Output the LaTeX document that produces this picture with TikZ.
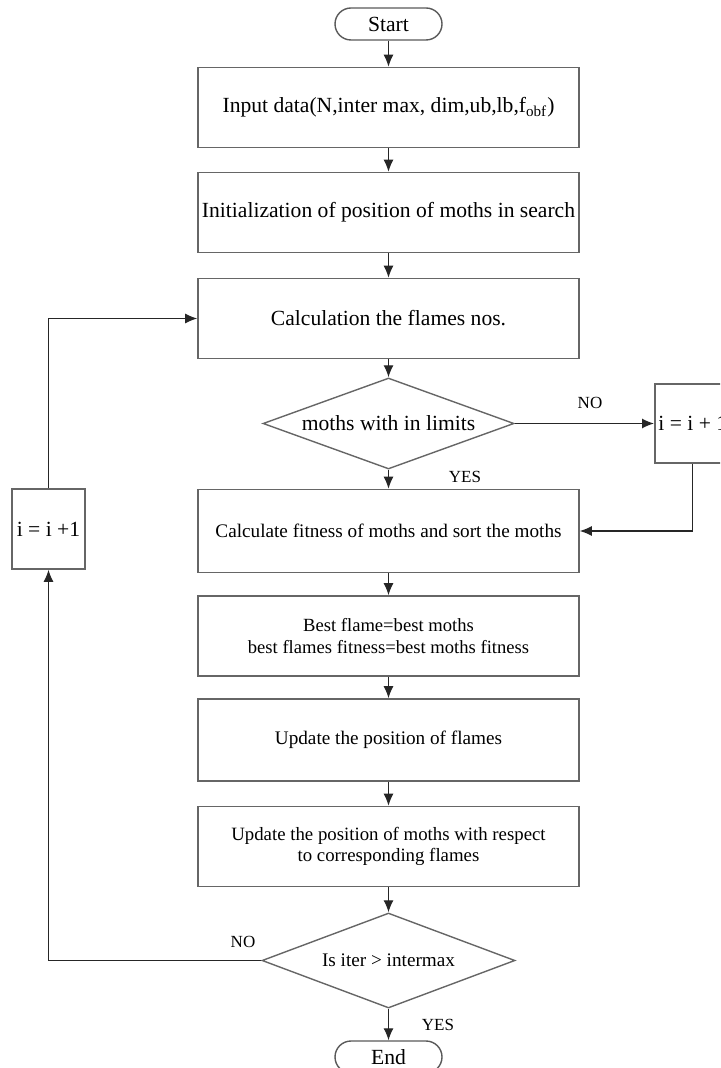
\documentclass[tikz,border=0pt]{standalone}
\usepackage{fontspec}
\setmainfont{Liberation Serif}
\usetikzlibrary{shapes.geometric,arrows.meta}
\newcommand{\axisX}{388.5}
\newcommand{\blockWidth}{190.5pt}
\newcommand{\blockHeight}{40pt}
\newcommand{\mainFont}{\fontsize{10.8}{13}\selectfont}
\newcommand{\smallFont}{\fontsize{9.6}{11}\selectfont}
\newcommand{\flagFont}{\fontsize{8.5}{10}\selectfont}
\tikzset{
	block/.style={rectangle, draw=black!60, line width=0.8pt, minimum width=\blockWidth, minimum height=\blockHeight, align=center, inner sep=1pt, font=\mainFont},
	smallblock/.style={block, font=\smallFont},
	counter/.style={rectangle, draw=black!60, line width=0.8pt, minimum width=36.5pt, minimum height=40pt, inner sep=0pt, font=\mainFont},
	decision/.style={diamond, draw=black!60, line width=0.7pt, aspect=2.7, inner sep=0pt, align=center},
	terminal/.style={rectangle, rounded corners=8pt, draw=black!65, line width=0.7pt, minimum width=53.5pt, minimum height=16pt, font=\mainFont},
	arrow/.style={draw=black!85, line width=0.6pt, -{Latex[length=6pt,width=5pt]}},
	flag/.style={font=\flagFont, inner sep=0pt}
}
\begin{document}
\begin{tikzpicture}[x=0.5pt,y=-0.5pt]
	\clip (0,0) rectangle (720,1068);
	
	% main column
	\node[terminal] (start) at (\axisX,24) {Start};
	\node[block] (input) at (\axisX,107.5) {Input data(N,inter max, dim,ub,lb,f\textsubscript{obf})};
	\node[block] (init) at (\axisX,212.5) {Initialization of position of moths in search};
	\node[block] (flames) at (\axisX,318.5) {Calculation the flames nos.};
	\node[decision, minimum width=125.5pt, minimum height=45.5pt, font=\mainFont] (limits) at (\axisX,423.5) {moths with in limits};
	\node[smallblock, minimum height=41.5pt] (fitness) at (\axisX,531) {Calculate fitness of moths and sort the moths};
	\node[smallblock, font=\fontsize{9.3}{11}\selectfont] (best) at (\axisX,636) {Best flame=best moths\\best flames fitness=best moths fitness};
	\node[smallblock, minimum height=41pt] (updflames) at (\axisX,740) {Update the position of flames};
	\node[smallblock, font=\fontsize{9.4}{10.5}\selectfont] (updmoths) at (\axisX,846.5) {Update the position of moths with respect\\to corresponding flames};
	\node[decision, minimum width=126.5pt, minimum height=47.5pt, font=\smallFont] (iter) at (\axisX,960.5) {Is iter {>} intermax};
	\node[terminal] (stop) at (\axisX,1057) {End};
	
	% counters (the right one runs off the page, as in the source)
	\node[counter, minimum width=38pt, minimum height=39.5pt, anchor=west] (incRight) at (654,423.5) {i = i + 1};
	\node[counter] (incLeft) at (48.5,529) {i = i +1};
	
	\foreach \from/\to in {start/input, input/init, init/flames, flames/limits, limits/fitness, fitness/best, best/updflames, updflames/updmoths, updmoths/iter, iter/stop}
	{
		\draw[arrow] (\from) -- (\to);
	}
	
	\draw[arrow] (limits.east) -- (incRight.west);
	\draw[arrow] (incRight.south) |- (fitness.east);
	\draw[arrow] (iter.west) -| (incLeft.south);
	\draw[arrow] (incLeft.north) |- (flames.west);
	
	\node[flag] (noRight) at (590,403) {NO};
	\node[flag] (yesLimits) at (465,477) {YES};
	\node[flag] (noLeft) at (243,942) {NO};
	\node[flag] (yesIter) at (438,1025) {YES};
\end{tikzpicture}
\end{document}
